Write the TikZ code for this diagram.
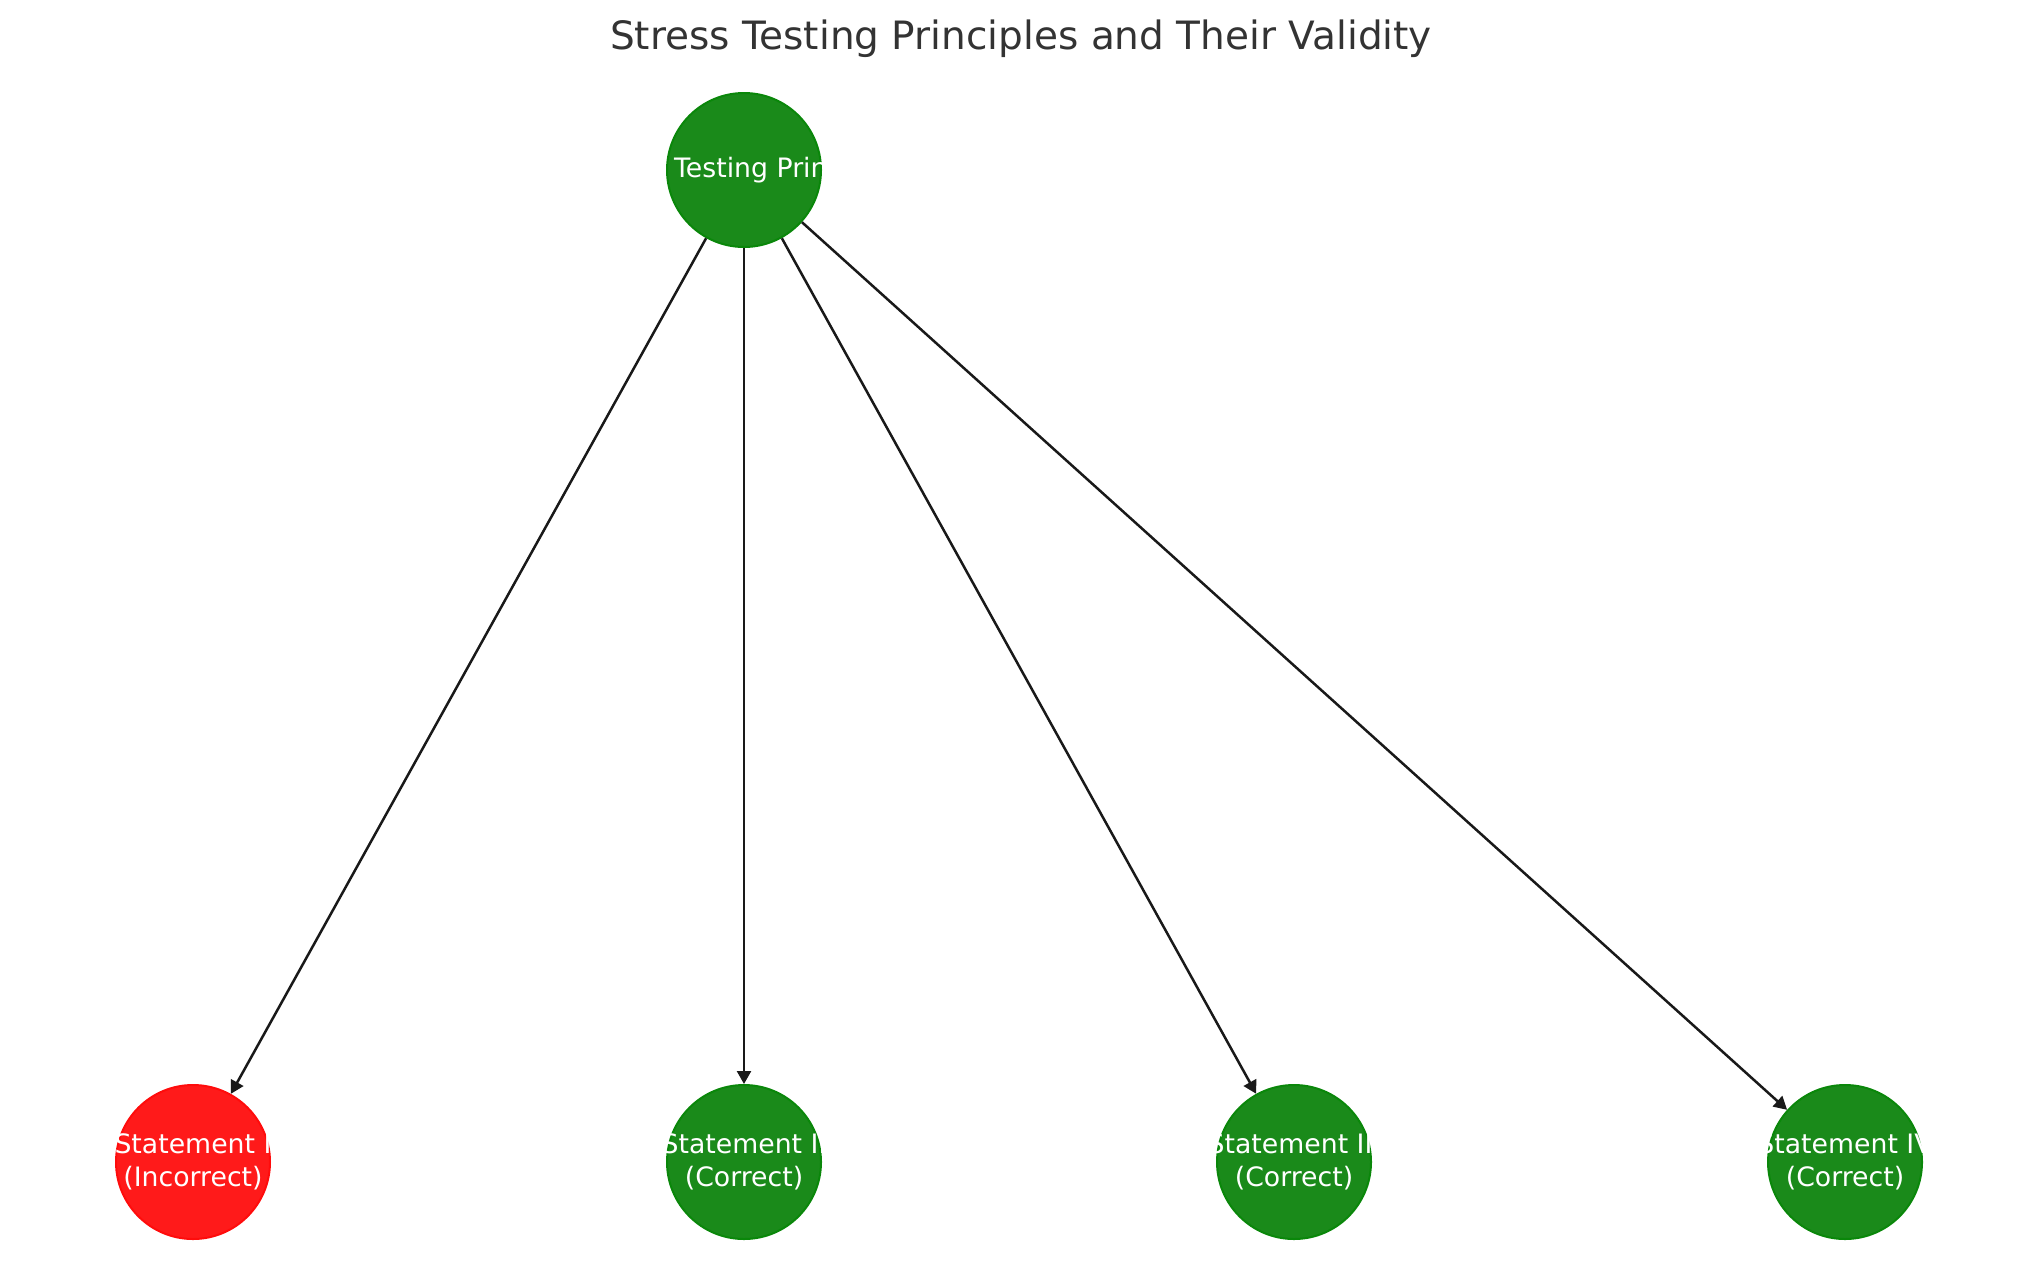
\documentclass[tikz,border=0pt]{standalone}
\usepackage{fontspec}
\setmainfont{DejaVu Sans}
\usepackage{xcolor}
\usepackage{tikz}
\usetikzlibrary{arrows.meta}
\definecolor{okgreen}{RGB}{26,138,26}
\definecolor{okgreenline}{RGB}{10,135,10}
\definecolor{badred}{RGB}{255,26,26}
\definecolor{badredline}{RGB}{255,12,12}
\definecolor{titlegray}{RGB}{51,51,51}

\begin{document}
\begin{tikzpicture}[
  ball/.style={circle,minimum size=1.54cm,inner sep=0pt,line width=0.02cm},
  okball/.style={ball,fill=okgreen,draw=okgreenline},
  badball/.style={ball,fill=badred,draw=badredline},
  balltext/.style={text=white,align=center,inner sep=0pt,font=\fontsize{7.6}{9.4}\selectfont},
  link/.style={line width=0.025cm,black!90,-{Triangle[length=0.13cm,width=0.14cm]}}
]
\useasboundingbox (0,0) rectangle (20.39,12.86);
\node[titlegray,anchor=base,font=\fontsize{11.1}{13}\selectfont] (title) at (10.21,12.36) {Stress Testing Principles and Their Validity};
\node[okball] (root) at (7.44,11.16) {};
\node[badball] (s1) at (1.93,1.24) {};
\node[okball] (s2) at (7.44,1.24) {};
\node[okball] (s3) at (12.94,1.24) {};
\node[okball] (s4) at (18.45,1.24) {};
\draw[link] (root) -- (s1);
\draw[link] (root) -- (s2);
\draw[link] (root) -- (s3);
\draw[link] (root) -- (s4);
\node[balltext] (roottext) at (root) {Stress Testing Principles};
\node[balltext] (s1text) at (s1) {Statement I\\(Incorrect)};
\node[balltext] (s2text) at (s2) {Statement II\\(Correct)};
\node[balltext] (s3text) at (s3) {Statement III\\(Correct)};
\node[balltext] (s4text) at (s4) {Statement IV\\(Correct)};
\end{tikzpicture}
\end{document}
